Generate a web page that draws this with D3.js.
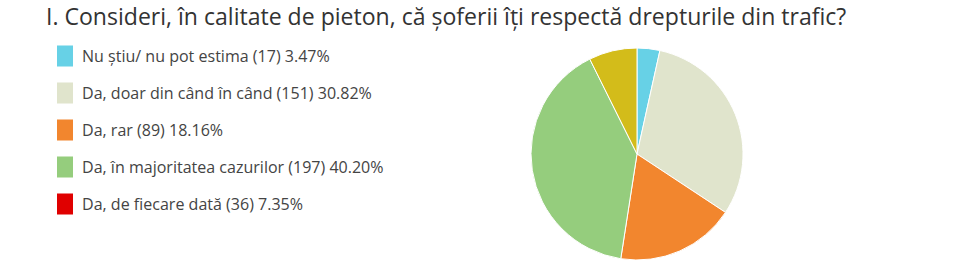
<!DOCTYPE html>
<html><head><meta charset="utf-8">
<script src="https://cdn.jsdelivr.net/npm/d3@7"></script>
<style>body{margin:0;background:#fff}svg{display:block}</style>
</head><body>
<svg id="c" width="975" height="263"></svg>
<script>
const title = "I. Consideri, în calitate de pieton, că șoferii îți respectă drepturile din trafic?";
const categories = ["Nu știu/ nu pot estima","Da, doar din când în când","Da, rar","Da, în majoritatea cazurilor","Da, de fiecare dată"];
const counts = [17,151,89,197,36];
const percents = ["3.47%","30.82%","18.16%","40.20%","7.35%"];
const sliceColors = ["#67d1e6","#e0e4cc","#f2862e","#95cd7d","#d3bc1a"];
const legendColors = ["#67d1e6","#e0e4cc","#f2862e","#95cd7d","#e00000"];

const svg = d3.select("#c");
const font = "'Open Sans', sans-serif";

const t = svg.append("text").attr("x",46).attr("y",25)
  .attr("font-family",font).attr("font-size",21).attr("fill","#333").text(title);
// fit width
const tw = t.node().getComputedTextLength();
t.attr("font-size", 21*801/tw);

const data = categories.map((c,i)=>({c, v:counts[i], p:percents[i], i}));
const y = d3.scalePoint().domain(d3.range(data.length)).range([56,204]);
const lg = svg.append("g");
const rows = lg.selectAll("g").data(data).join("g").attr("transform",d=>`translate(0,${y(d.i)})`);
rows.append("rect").attr("x",57).attr("y",-10.5).attr("width",16).attr("height",21).attr("fill",d=>legendColors[d.i]);
const lt = rows.append("text").attr("x",82).attr("y",5.5).attr("font-family",font).attr("font-size",14.5).attr("fill","#444")
  .text(d=>`${d.c} (${d.v}) ${d.p}`);
const w0 = lt.nodes()[0].getComputedTextLength();
lt.attr("font-size",14.5*248/w0);

const pie = d3.pie().sort(null).value(d=>d.v);
const arc = d3.arc().innerRadius(0).outerRadius(106);
svg.append("g").attr("transform","translate(637,154)")
  .selectAll("path").data(pie(data)).join("path")
  .attr("d",arc).attr("fill",d=>sliceColors[d.data.i]).attr("stroke","#fff").attr("stroke-width",1);
</script>
</body></html>
